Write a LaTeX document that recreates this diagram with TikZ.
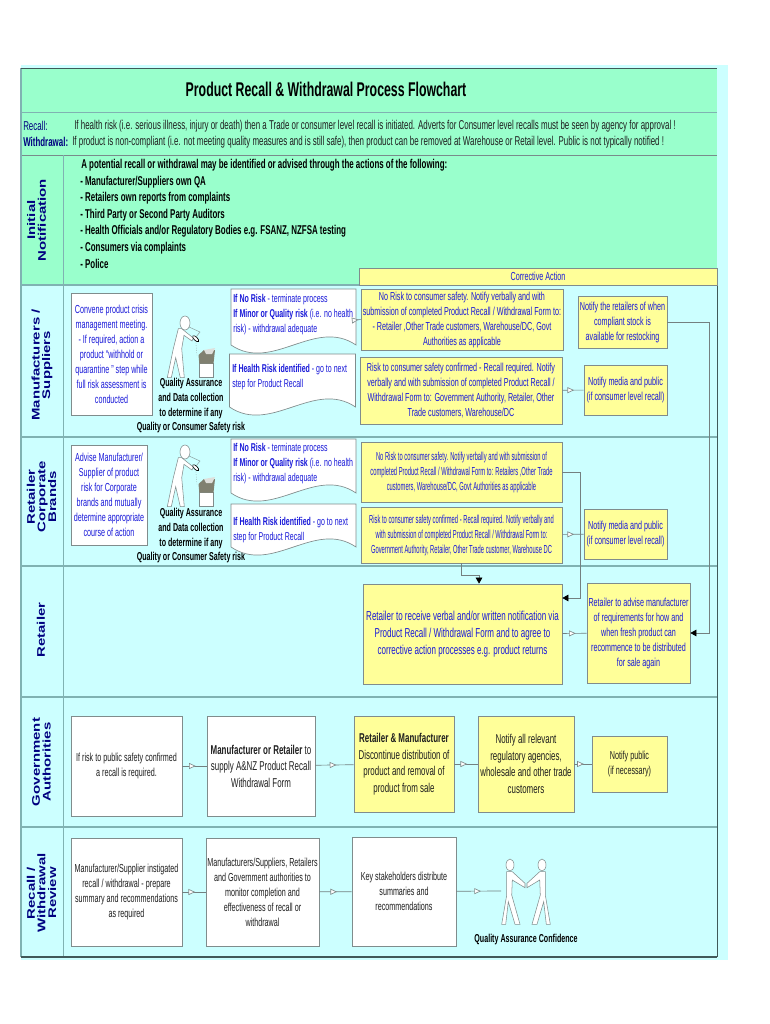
\documentclass[tikz,border=0pt]{standalone}
\usepackage{fontspec}
\setmainfont[FakeStretch=0.62]{Liberation Sans}
\newfontfamily\tightfont[FakeStretch=0.50]{Liberation Sans}
\newfontfamily\lanefont[FakeStretch=1.35]{Liberation Sans}
\usepackage{xcolor}
\usetikzlibrary{arrows.meta, decorations.markings}
\definecolor{bandbg}{rgb}{0.60,1.0,0.80}
\definecolor{lanebg}{rgb}{0.80,1.0,1.0}
\definecolor{stepbg}{rgb}{1.0,1.0,0.60}
\definecolor{stepblue}{rgb}{0.10,0.10,0.85}
\definecolor{lanenavy}{rgb}{0.0,0.0,0.50}
\definecolor{laneline}{rgb}{0.50,0.70,0.70}
\definecolor{frameline}{rgb}{0.25,0.35,0.35}
\definecolor{boxline}{rgb}{0.50,0.55,0.55}
\definecolor{flowline}{rgb}{0.45,0.50,0.50}
\definecolor{textgray}{rgb}{0.12,0.12,0.12}
\definecolor{bingray}{rgb}{0.50,0.50,0.44}

% draws the white page shape with the wavy foot
\newcommand{\docshape}[4]{
  \draw[docline] (#1,#2) -- ++(#3,0) -- ++(0,#4)
    .. controls +(-0.33*#3,-28) and +(0.33*#3,28) .. ++(-#3,0) -- cycle;
}

\tikzset{
  person/.pic={
    \draw[figline] (-3.3,5.7) -- (8.3,15) -- (7,18) -- (-1,12.3) -- (-3.3,25.7) -- (-0.7,54.7) -- (-4.7,54.7) -- (-9.3,34.7) -- (-13.7,54.7) -- (-17.7,54.7) -- (-11.7,25.7) -- (-6.7,5.7) -- cycle;
    \draw[figline] (0,0) ellipse [x radius=5, y radius=7];
    \draw[black, fill=white, line width=0.5pt, rotate around={-45:(10.7,15.7)}] (10.7,15.7) ellipse [x radius=4, y radius=1.7];
    \draw[boxline, densely dotted, line width=0.3pt] (10.7,17) -- (12,33);
    \draw[boxline, line width=0.3pt] (4,4) -- (15,9) -- (11,14);
    \draw[figline] (14.3,40) rectangle (28.3,54);
    \fill[bingray] (13.5,32) -- (19,27) -- (30,27) -- (28.5,40.7) -- (14.3,40.7) -- cycle;
    \fill[white!75!bingray] (19,27) -- (30,25) -- (27,31) -- (21,31) -- cycle;
  },
  greeter/.pic={
    \draw[figline] (2.3,6.7) -- (15,18.3) -- (15,22.7) -- (2.3,15) -- (1.7,30) -- (10,59.3) -- (5,59.3) -- (-1.7,36.7) -- (-4.3,59.3) -- (-8.3,59.3) -- (-3.3,30) -- (-3.3,6.7) -- cycle;
    \draw[figline] (0,0) ellipse [x radius=4, y radius=6];
  }
}

\begin{document}
\begin{tikzpicture}[x=0.75pt, y=-0.75pt,
    docline/.style={draw=boxline, fill=white, line width=0.5pt},
    figline/.style={draw=boxline, fill=white, line width=0.4pt},
    size/.style 2 args={minimum width=#1*0.75pt, minimum height=#2*0.75pt},
    stepbox/.style={rectangle, draw=boxline, fill=stepbg, line width=0.6pt, inner sep=0pt, align=center, text=stepblue, font=\fontsize{8.7}{11.25}\selectfont},
    plainbox/.style={stepbox, fill=white},
    graybox/.style={stepbox, text=textgray},
    whitegray/.style={plainbox, text=textgray},
    doctext/.style={anchor=north west, inner sep=0pt, align=left, text=stepblue, font=\fontsize{8.5}{11.1}\selectfont},
    lanelabel/.style={rotate=90, align=center, text=lanenavy, font=\lanefont\bfseries\fontsize{8.3}{8}\selectfont},
    qatext/.style={align=center, inner sep=0pt, text=black, font=\bfseries\fontsize{8.6}{11.25}\selectfont},
    notetext/.style={anchor=west, inner sep=0pt, text=textgray, font=\fontsize{9.6}{11}\selectfont},
    listtext/.style={anchor=west, inner sep=0pt, text=black, font=\bfseries\fontsize{9.6}{12}\selectfont},
    flow/.style={draw=flowline, line width=0.5pt, decoration={markings, mark=at position 0.55 with {\arrow{Triangle[open, fill=white, color=boxline, length=5pt, width=4.5pt]}}}, postaction={decorate}},
    back/.style={draw=flowline, line width=0.5pt, -{Triangle[color=black, length=4.5pt, width=5pt]}}
]
\useasboundingbox (0,0) rectangle (770,1024);

% bands and lanes
\fill[lanebg] (21,65) rectangle (728,960);
\fill[bandbg] (21,68) rectangle (717,285);
\draw[laneline, line width=0.7pt] (21,112) -- (717,112);
\draw[frameline!70, line width=0.5pt] (21,155) -- (717,155);
\draw[laneline, line width=0.7pt] (63,155) -- (63,957);
\foreach \ly in {285,437,566,697,827}
  \draw[laneline, line width=0.8pt] (21,\ly) -- (717,\ly);
\draw[laneline, line width=1pt] (21,68) -- (21,957);
\draw[frameline, line width=0.7pt] (21,68) -- (717,68);
\draw[frameline, line width=0.6pt] (717,285) -- (717,957);
\draw[frameline, line width=1pt] (21,957) -- (717,957);

% title and notes
\node[inner sep=0pt, font=\bfseries\fontsize{14.9}{18}\selectfont] (title) at (326,89) {Product Recall \& Withdrawal Process Flowchart};
\node[notetext, text=lanenavy] (recalltag) at (23,126) {Recall:};
\node[notetext] (recallnote) at (74,126) {If health risk (i.e. serious illness, injury or death) then a Trade or consumer level recall is initiated. Adverts for Consumer level recalls must be seen by agency for approval !};
\node[notetext, text=lanenavy, font=\bfseries\fontsize{9.6}{11}\selectfont] (withdrawtag) at (23,142) {Withdrawal:};
\node[notetext] (withdrawnote) at (72,142) {If product is non-compliant (i.e. not meeting quality measures and is still safe), then product can be removed at Warehouse or Retail level. Public is not typically notified !};

% initial notification
\node[listtext] (source0) at (81,165.5) {A potential recall or withdrawal may be identified or advised through the actions of the following:};
\node[listtext] (source1) at (80,182) {- Manufacturer/Suppliers own QA};
\node[listtext] (source2) at (80,198.5) {- Retailers own reports from complaints};
\node[listtext] (source3) at (80,215) {- Third Party or Second Party Auditors};
\node[listtext] (source4) at (80,231.5) {- Health Officials and/or Regulatory Bodies e.g. FSANZ, NZFSA testing};
\node[listtext] (source5) at (80,248) {- Consumers via complaints};
\node[listtext] (source6) at (80,264) {- Police};
\node[stepbox, size={358}{17}] (corrective) at (538,276.5) {Corrective Action};

% lane labels
\node[lanelabel] (lane1) at (36.5,220) {Initial\\Notification};
\node[lanelabel] (lane2) at (42,365) {Manufacturers /\\Suppliers};
\node[lanelabel] (lane3) at (41.5,497) {Retailer\\Corporate\\Brands};
\node[lanelabel] (lane4) at (41,630) {Retailer};
\node[lanelabel] (lane5) at (41.5,762) {Government\\Authorities};
\node[lanelabel] (lane6) at (41.5,893) {Recall /\\Withdrawal\\Review};

% manufacturers / suppliers
\node[plainbox, size={81}{122}] (crisis) at (111.5,354) {Convene product crisis\\management meeting.\\- If required, action a\\product ``withhold or\\quarantine '' step while\\full risk assessment is\\conducted};
\pic at (185,323) {person};
\node[qatext] (qa1) at (191,399) {Quality Assurance\\and Data collection\\to determine if any};
\node[qatext] (qa1b) at (191,428) {Quality or Consumer Safety risk};
\docshape{231}{289}{125}{56}
\node[doctext] (norisk1) at (233,294.5) {\textbf{If No Risk} - terminate process\\\textbf{If Minor or Quality risk} (i.e. no health\\risk) - withdrawal adequate};
\docshape{229.5}{354}{126}{53}
\node[doctext] (health1) at (232,364.5) {\textbf{If Health Risk identified} - go to next\\step for Product Recall};
\coordinate (page1) at (356,320);

\node[stepbox, size={202}{61}] (notify1) at (462,319.5) {No Risk to consumer safety. Notify verbally and with\\submission of completed Product Recall / Withdrawal Form to:\\- Retailer ,Other Trade customers, Warehouse/DC, Govt\\Authorities as applicable};
\node[stepbox, size={202}{67}] (notify2) at (461,390.5) {Risk to consumer safety confirmed - Recall required.  Notify\\verbally and with submission of completed Product Recall /\\Withdrawal Form to:  Government Authority, Retailer, Other\\Trade customers, Warehouse/DC};
\node[stepbox, size={89}{52}] (restock) at (622.5,322) {Notify the retailers of when\\compliant stock is\\available for restocking};
\node[stepbox, size={83}{50}] (media1) at (625.5,390) {Notify media and public\\(if consumer level recall)};

% retailer corporate brands
\node[plainbox, size={76}{100}] (advise) at (109,495) {Advise Manufacturer/\\Supplier of product\\risk for Corporate\\brands and mutually\\determine appropriate\\course of action};
\pic at (185,452) {person};
\node[qatext] (qa2) at (191,529) {Quality Assurance\\and Data collection\\to determine if any};
\node[qatext] (qa2b) at (191,558) {Quality or Consumer Safety risk};
\docshape{231}{439}{125}{54}
\node[doctext] (norisk2) at (233,443.5) {\textbf{If No Risk} - terminate process\\\textbf{If Minor or Quality risk} (i.e. no health\\risk) - withdrawal adequate};
\docshape{231}{504}{125}{43}
\node[doctext] (health2) at (233,517.5) {\textbf{If Health Risk identified} - go to next\\step for Product Recall};

\node[stepbox, size={201}{60}, font=\tightfont\fontsize{8.7}{11.25}\selectfont] (notify3) at (461.5,472) {No Risk to consumer safety. Notify verbally and with submission of\\completed Product Recall / Withdrawal Form to: Retailers ,Other Trade\\customers, Warehouse/DC, Govt Authorities as applicable};
\node[stepbox, size={201}{56}, font=\tightfont\fontsize{8.7}{11.25}\selectfont] (notify4) at (461.5,535) {Risk to consumer safety confirmed - Recall required.  Notify verbally and\\with submission of completed Product Recall / Withdrawal Form to:\\Government Authority, Retailer, Other Trade customer, Warehouse DC};
\node[stepbox, size={83}{50}] (media2) at (625.5,534) {Notify media and public\\(if consumer level recall)};

% retailer
\node[stepbox, size={199}{100}, font=\fontsize{9.7}{12.6}\selectfont] (receive) at (462.5,634) {Retailer to receive verbal and/or written notification via\\Product Recall / Withdrawal Form and to agree to\\corrective action processes e.g. product returns};
\node[stepbox, size={103}{100}] (fresh) at (638.5,633) {Retailer to advise manufacturer\\of requirements for how and\\when fresh product can\\recommence to be distributed\\for sale again};

% government authorities
\node[whitegray, size={111}{100}] (confirmed) at (126.5,766) {If risk to public safety confirmed\\a recall  is required.};
\node[whitegray, size={108}{100}, font=\fontsize{9.6}{12.4}\selectfont] (form) at (261,766) {\textbf{Manufacturer or Retailer} to\\supply A\&NZ Product Recall\\Withdrawal Form};
\node[graybox, size={100}{96}, font=\fontsize{9.6}{12.4}\selectfont] (discontinue) at (404,764) {\textbf{Retailer \& Manufacturer}\\Discontinue distribution of\\product and removal of\\product from sale};
\node[graybox, size={96}{96}, font=\fontsize{9.6}{12.4}\selectfont] (agencies) at (526,764) {Notify all relevant\\regulatory agencies,\\wholesale and other trade\\customers};
\node[graybox, size={75}{56}] (public) at (629.5,764) {Notify  public\\(if necessary)};

% recall / withdrawal review
\node[whitegray, size={111}{108}] (summary) at (126.5,892) {Manufacturer/Supplier instigated\\recall / withdrawal - prepare\\summary and recommendations\\as required};
\node[whitegray, size={113}{108}] (monitor) at (262.5,892) {Manufacturers/Suppliers, Retailers\\and Government authorities  to\\monitor completion and\\effectiveness of recall or\\withdrawal};
\node[whitegray, size={104}{109}] (stakeholders) at (404,891.5) {Key stakeholders distribute\\summaries and\\recommendations};
\coordinate (shake) at (501,891);
\pic at (510,865) {greeter};
\pic[xscale=-1] at (542,865) {greeter};
\node[qatext] (confidence) at (526,940) {Quality Assurance Confidence};

% connectors
\draw[flow] (page1) -- (notify1.west);
\draw[flow] (notify2) -- (media1);
\draw[flow] (notify4) -- (media2);
\draw[flow] (receive) -- (fresh);
\draw[flow] (confirmed) -- (form);
\draw[flow] (form) -- (discontinue);
\draw[flow] (discontinue) -- (agencies);
\draw[flow] (agencies) -- (public);
\draw[flow] (summary) -- (monitor);
\draw[flow] (monitor) -- (stakeholders);
\draw[flow] (stakeholders) -- (shake);
\draw[back] (notify4.south) -- ++(0,12) -| ([xshift=12.4pt]receive.north);
\draw[back] (notify3.east) -- ++(18,0) |- ([yshift=27pt]receive.east);
\draw[back] (restock.east) -- ++(42,0) |- (fresh.east);

\end{tikzpicture}
\end{document}
